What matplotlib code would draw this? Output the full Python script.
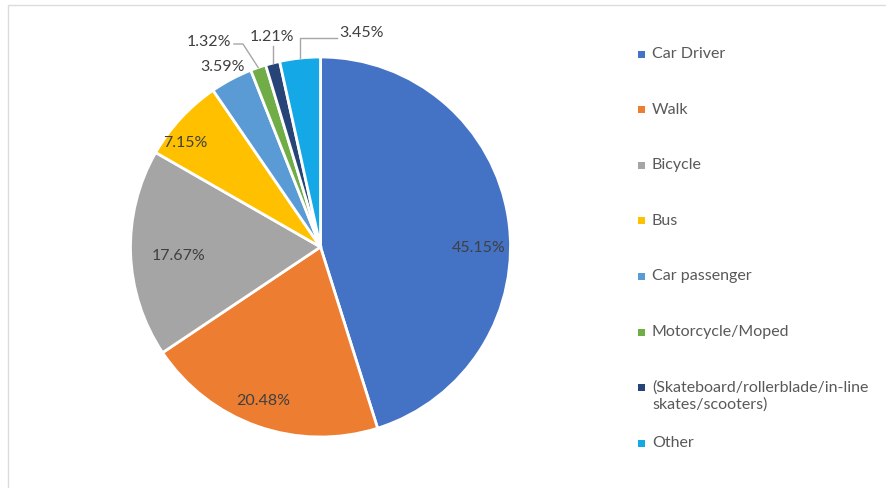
import numpy as np
import matplotlib
matplotlib.use("Agg")
import matplotlib.pyplot as plt
from matplotlib.patches import Rectangle

modes = ["Car Driver", "Walk", "Bicycle", "Bus", "Car passenger",
         "Motorcycle/Moped", "(Skateboard/rollerblade/in-line\nskates/scooters)", "Other"]
shares = [45.15, 20.48, 17.67, 7.15, 3.59, 1.32, 1.21, 3.45]
pct_labels = ["45.15%", "20.48%", "17.67%", "7.15%", "3.59%", "1.32%", "1.21%", "3.45%"]
colors = ["#4472C4", "#ED7D31", "#A5A5A5", "#FFC000", "#5B9BD5",
          "#70AD47", "#264478", "#14A9E6"]

W, H = 886, 489
fig = plt.figure(figsize=(W / 100, H / 100), dpi=100)
ax = fig.add_axes([0, 0, 1, 1])

# faint chart-area border
fig.patches.append(Rectangle((8 / W, -0.01), 1.0, (H - 6) / H + 0.01, transform=fig.transFigure,
                             fill=False, edgecolor="#DCDCDC", linewidth=1.0))

cx, cy, R = 320.5, H - 248, 190
wedges, _ = ax.pie(shares, colors=colors, startangle=90, counterclock=False,
                   radius=R, center=(cx, cy), frame=True,
                   wedgeprops=dict(edgecolor="white", linewidth=2))
ax.set_xlim(0, W)
ax.set_ylim(0, H)
ax.set_aspect("equal")
ax.axis("off")

txt = "#404040"
font = "Lato"
pfs = 11.5

# label layout: (distance in radii, angle shift in degrees)
inside = {0: (0.83, -8.7), 1: (0.86, -1.0), 2: (0.75, 1.3), 3: (0.9, 5.0)}
for i, (d, da) in inside.items():
    w = wedges[i]
    a = np.deg2rad((w.theta1 + w.theta2) / 2 + da)
    ax.text(cx + d * R * np.cos(a), cy + d * R * np.sin(a), pct_labels[i],
            ha="center", va="center", fontsize=pfs, color=txt, family=font)


def edge(i, r=1.0):
    w = wedges[i]
    a = np.deg2rad((w.theta1 + w.theta2) / 2)
    return cx + r * R * np.cos(a), cy + r * R * np.sin(a)


# outside labels
ex, ey = edge(4, 1.12)
ax.text(ex + 2, ey - 7, pct_labels[4], ha="center", va="center", fontsize=pfs, color=txt, family=font)

lc = "#A6A6A6"
# Motorcycle/Moped
px, py = edge(5, 1.0)
ax.text(231, H - 42, pct_labels[5], ha="right", va="center", fontsize=pfs, color=txt, family=font)
ax.plot([234, 243, px], [H - 45, H - 45, py], color=lc, lw=1)
# Skateboard etc
px, py = edge(6, 1.0)
ax.text(272, H - 37, pct_labels[6], ha="center", va="center", fontsize=pfs, color=txt, family=font)
ax.plot([px, px], [H - 47, py], color=lc, lw=1)
# Other
px, py = edge(7, 1.0)
ax.text(339, H - 33, pct_labels[7], ha="left", va="center", fontsize=pfs, color=txt, family=font)
ax.plot([337, px, px], [H - 39, H - 39, py], color=lc, lw=1)

# legend
y0, step = 55, 55.6
for i, (m, c) in enumerate(zip(modes, colors)):
    y = H - (y0 + i * step)
    ax.add_patch(Rectangle((638, y - 3.5), 7, 7, facecolor=c, edgecolor="none"))
    ax.text(652, y + 8, m, ha="left", va="top", fontsize=11.5, color="#595959",
            family=font, linespacing=1.2)

fig.savefig("out.png", dpi=100, facecolor="white")
